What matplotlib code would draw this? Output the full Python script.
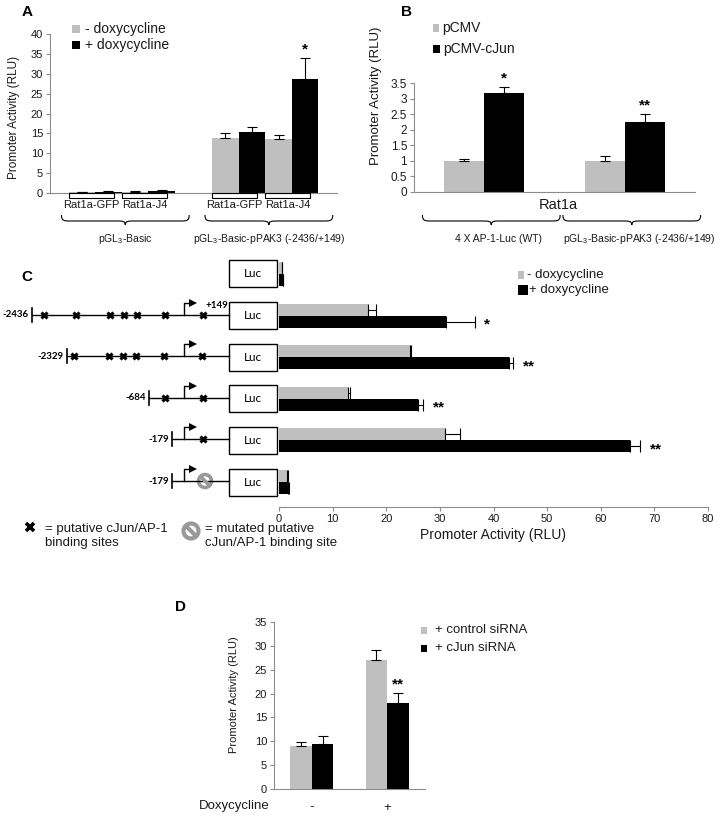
import matplotlib
matplotlib.use('Agg')
import matplotlib.pyplot as plt
import numpy as np
from matplotlib.patches import Rectangle, Circle, PathPatch
from matplotlib.path import Path
from matplotlib.ticker import FuncFormatter

plt.rcParams['font.family'] = ['Liberation Sans', 'DejaVu Sans']
plt.rcParams['mathtext.fontset'] = 'custom'
plt.rcParams['mathtext.rm'] = 'Liberation Sans'
plt.rcParams['mathtext.it'] = 'Liberation Sans:italic'
plt.rcParams['mathtext.bf'] = 'Liberation Sans:bold'

GRAY = '#BFBFBF'
BLACK = '#000000'
SPINE = '#8C8C8C'
TXT = '#1a1a1a'

# ---------------- data ----------------
# Panel A
a_groups = ['pGL$_{\\mathrm{3}}$-Basic', 'pGL$_{\\mathrm{3}}$-Basic-pPAK3 (-2436/+149)']
a_cells = ['Rat1a-GFP', 'Rat1a-J4']
a_series = ['- doxycycline', '+ doxycycline']
a_gfp_minus = [0.25, 13.9]
a_gfp_plus = [0.3, 15.4]
a_j4_minus = [0.35, 13.5]
a_j4_plus = [0.55, 28.8]
a_gfp_minus_err = [0.1, 1.1]
a_gfp_plus_err = [0.1, 1.2]
a_j4_minus_err = [0.1, 1.1]
a_j4_plus_err = [0.15, 5.2]
a_stars = ['', '', '', '*']  # for group 2 bars

# Panel B
b_groups = ['4 X AP-1-Luc (WT)', 'pGL$_{\\mathrm{3}}$-Basic-pPAK3 (-2436/+149)']
b_series = ['pCMV', 'pCMV-cJun']
b_pcmv = [1.0, 1.0]
b_pcmv_err = [0.07, 0.15]
b_cjun = [3.19, 2.26]
b_cjun_err = [0.19, 0.25]
b_stars = ['*', '**']

# Panel C
c_labels = ['', '-2436', '-2329', '-684', '-179', '-179']
c_minus = [0.5, 16.6, 24.4, 12.8, 30.9, 1.5]
c_minus_err = [0.1, 1.4, 0.2, 0.4, 2.8, 0.1]
c_plus = [0.7, 31.1, 42.8, 26.0, 65.4, 1.7]
c_plus_err = [0.1, 5.4, 0.9, 0.9, 2.0, 0.1]
c_stars = ['', '*', '**', '**', '**', '']
# schematic construct drawing (schematic pixel positions, not to scale)
c_start = [None, 32, 67, 149, 172, 172]
c_sites = [[], [44, 76, 110, 124, 137, 165, 203], [74, 109, 123, 136, 164, 202],
           [165, 203], [203], []]
c_mutated = [None, None, None, None, None, 205]
c_tss = 184

# Panel D
d_cats = ['-', '+']
d_series = ['+ control siRNA', '+ cJun siRNA']
d_ctrl = [9.0, 27.1]
d_ctrl_err = [0.9, 2.0]
d_cjun = [9.5, 18.0]
d_cjun_err = [1.6, 2.2]
d_stars = ['', '**']

# ---------------- figure ----------------
W, H = 720, 816
fig = plt.figure(figsize=(7.2, 8.16), dpi=100)


def px_axes(l, t, r, b):
    return fig.add_axes([l / W, 1 - b / H, (r - l) / W, (b - t) / H])


ov = fig.add_axes([0, 0, 1, 1], zorder=5)
ov.set_xlim(0, W)
ov.set_ylim(H, 0)
ov.axis('off')
ov.patch.set_alpha(0)


def to_px(ax, x, y):
    d = ax.transData.transform((x, y))
    return ov.transData.inverted().transform(d)


def style(ax, fs):
    for s in ['top', 'right']:
        ax.spines[s].set_visible(False)
    for s in ['left', 'bottom']:
        ax.spines[s].set_color(SPINE)
        ax.spines[s].set_linewidth(0.8)
    ax.tick_params(axis='both', direction='out', length=3, width=0.8, color=SPINE,
                   labelsize=fs, labelcolor=TXT, pad=2)


def brace(x0, x1, y, up=6, down=4, lw=0.8):
    xm = (x0 + x1) / 2
    r = min(9, (x1 - x0) / 6)
    yt = y - up
    yb = y + down
    verts = [(x0, yt),
             (x0, y), (x0 + r * 0.3, y), (x0 + r, y),
             (xm - r, y),
             (xm - r * 0.3, y), (xm, y), (xm, yb),
             (xm, y), (xm + r * 0.3, y), (xm + r, y),
             (x1 - r, y),
             (x1 - r * 0.3, y), (x1, y), (x1, yt)]
    codes = [Path.MOVETO,
             Path.CURVE4, Path.CURVE4, Path.CURVE4,
             Path.LINETO,
             Path.CURVE4, Path.CURVE4, Path.CURVE4,
             Path.CURVE4, Path.CURVE4, Path.CURVE4,
             Path.LINETO,
             Path.CURVE4, Path.CURVE4, Path.CURVE4]
    ov.add_patch(PathPatch(Path(verts, codes), fill=False, lw=lw, color='black'))


def legend_item(x, y, color, text, size=8, gap=4, fs=9, sqw=None):
    sqw = sqw or size
    ov.add_patch(Rectangle((x, y - size / 2), sqw, size, color=color, lw=0))
    ov.text(x + sqw + gap, y, text, fontsize=fs, va='center', ha='left', color=TXT)


ekw = dict(ecolor='black', elinewidth=0.8, capsize=3.5, capthick=0.8)

# ---------------- Panel A ----------------
axA = px_axes(50, 34, 337, 193)
style(axA, 8)
xA = np.arange(len(a_groups))
wA = 0.185
a_vals = [a_gfp_minus, a_gfp_plus, a_j4_minus, a_j4_plus]
a_errs = [a_gfp_minus_err, a_gfp_plus_err, a_j4_minus_err, a_j4_plus_err]
a_cols = [GRAY, BLACK, GRAY, BLACK]
a_offs = [-1.5 * wA, -0.5 * wA, 0.5 * wA, 1.5 * wA]
for v, e, c, o in zip(a_vals, a_errs, a_cols, a_offs):
    axA.bar(xA + o, v, wA, color=c, yerr=[np.zeros(len(e)), e], error_kw=ekw, zorder=2)
for k, s in enumerate(a_stars):
    if s:
        axA.text(xA[1] + a_offs[k], a_vals[k][1] + a_errs[k][1] + 0.3, s,
                 ha='center', va='bottom', fontsize=11, fontweight='bold')
axA.set_xlim(-0.5, 1.5)
axA.set_ylim(0, 40)
axA.set_yticks(np.arange(0, 41, 5))
axA.set_xticks([])
axA.set_ylabel('Promoter Activity (RLU)', fontsize=8.5, va='center', color=TXT)
axA.yaxis.set_label_coords(14, 117, transform=ov.transData)
for g, c in enumerate(xA):
    for p, (lo, hi) in enumerate([(-2 * wA, -0.3 * wA), (0.0, 1.7 * wA)]):
        x0 = to_px(axA, c + lo, 0)[0]
        x1 = to_px(axA, c + hi, 0)[0]
        ov.add_patch(Rectangle((x0, 193), x1 - x0, 4.5, fill=False, lw=0.8, ec='black'))
        ov.text((x0 + x1) / 2, 205, a_cells[p], fontsize=8, ha='center', va='center', color=TXT)
    bx0 = to_px(axA, c - 0.42, 0)[0]
    bx1 = to_px(axA, c + 0.47, 0)[0]
    brace(bx0, bx1, 221)
    ov.text((bx0 + bx1) / 2, 239, a_groups[g], fontsize=7.5, ha='center', va='center', color=TXT)
legend_item(72, 29, GRAY, a_series[0], size=8, gap=5, fs=10)
legend_item(72, 45, BLACK, a_series[1], size=8, gap=5, fs=10)
ov.text(27, 12, 'A', fontsize=11, fontweight='bold', ha='center', va='center')

# ---------------- Panel B ----------------
axB = px_axes(414, 83, 695, 192)
style(axB, 8.5)
xB = np.arange(len(b_groups))
wB = 0.285
axB.bar(xB - wB / 2, b_pcmv, wB, color=GRAY, yerr=[np.zeros(2), b_pcmv_err], error_kw=ekw, zorder=2)
axB.bar(xB + wB / 2, b_cjun, wB, color=BLACK, yerr=[np.zeros(2), b_cjun_err], error_kw=ekw, zorder=2)
for i, s in enumerate(b_stars):
    axB.text(xB[i] + wB / 2, b_cjun[i] + b_cjun_err[i] + 0.03, s, ha='center', va='bottom',
             fontsize=11, fontweight='bold')
axB.set_xlim(-0.5, 1.5)
axB.set_ylim(0, 3.5)
axB.set_yticks(np.arange(0, 3.51, 0.5))
axB.yaxis.set_major_formatter(FuncFormatter(lambda v, p: '%g' % v))
axB.set_xticks([])
axB.set_ylabel('Promoter Activity (RLU)', fontsize=9.5, va='center', color=TXT)
axB.yaxis.set_label_coords(376, 96, transform=ov.transData)
ov.text(558, 205, 'Rat1a', fontsize=10.5, ha='center', va='center', color=TXT)
for g, c in enumerate(xB):
    bx0 = to_px(axB, c - 0.44, 0)[0]
    bx1 = to_px(axB, c + 0.54, 0)[0]
    brace(bx0, bx1, 221)
    lx = to_px(axB, c + 0.1, 0)[0]
    ov.text(lx, 239, b_groups[g], fontsize=7.5, ha='center', va='center', color=TXT)
legend_item(433, 28, GRAY, b_series[0], size=8, sqw=6, gap=3, fs=10)
legend_item(433, 49, BLACK, b_series[1], size=8, sqw=7, gap=3, fs=10)
ov.text(406, 12, 'B', fontsize=11, fontweight='bold', ha='center', va='center')

# ---------------- Panel C ----------------
axC = px_axes(279, 249, 708, 507)
style(axC, 8)
axC.spines['left'].set_visible(False)
axC.tick_params(axis='y', left=False, labelleft=False)
yC = np.arange(len(c_labels))
hC = 0.29
ekwh = dict(ecolor='black', elinewidth=0.8, capsize=4.5, capthick=0.8)
axC.barh(yC - hC / 2, c_minus, hC, color=GRAY, xerr=[np.zeros(len(yC)), c_minus_err], error_kw=ekwh, zorder=2)
axC.barh(yC + hC / 2, c_plus, hC, color=BLACK, xerr=[np.zeros(len(yC)), c_plus_err], error_kw=ekwh, zorder=2)
for i, s in enumerate(c_stars):
    if s:
        axC.text(c_plus[i] + c_plus_err[i] + 1.8, yC[i] + hC / 2 + 0.07, s, ha='left', va='center',
                 fontsize=11, fontweight='bold')
axC.set_xlim(0, 80)
axC.set_ylim(5.6, -0.6)
axC.set_xticks(np.arange(0, 81, 10))
axC.set_xlabel('Promoter Activity (RLU)', fontsize=10, color=TXT, labelpad=3)

for i in range(len(c_labels)):
    yc = to_px(axC, 0, yC[i])[1]
    # Luc box
    ov.add_patch(Rectangle((229, yc - 13.5), 48, 27, fill=True, fc='white', ec='black', lw=1.0))
    ov.text(253, yc, 'Luc', fontsize=8.5, family=['Lato', 'Liberation Sans'], ha='center', va='center')
    if c_start[i] is None:
        continue
    yl = yc - 1
    x0 = c_start[i]
    ov.plot([x0, 229], [yl, yl], color='black', lw=1.0)
    ov.plot([x0, x0], [yl - 7, yl + 7], color='black', lw=1.2)
    ov.text(x0 - 3, yl, c_labels[i], fontsize=7, fontweight='bold',
            family=['Lato', 'Liberation Sans'], ha='right', va='center')
    # TSS arrow
    ov.plot([c_tss, c_tss, c_tss + 8], [yl, yl - 12, yl - 12], color='black', lw=1.0)
    ov.plot([c_tss + 9], [yl - 12], marker='>', ms=6, color='black', mew=0)
    for sx in c_sites[i]:
        ov.plot([sx], [yl], marker='x', ms=4.5, mew=2.2, color='black')
    if c_mutated[i] is not None:
        mx = c_mutated[i]
        ov.add_patch(Circle((mx, yl), 6.5, fill=False, ec='#999999', lw=2.6))
        d = 6.5 * 0.707
        ov.plot([mx - d, mx + d], [yl - d, yl + d], color='#999999', lw=2.6, solid_capstyle='butt')
    if i == 1:
        ov.text(205, yl - 9, '+149', fontsize=7, fontweight='bold',
                family=['Lato', 'Liberation Sans'], ha='left', va='center')

legend_item(518, 275, GRAY, '- doxycycline', size=8, sqw=6, gap=3, fs=9.5)
legend_item(518, 290, BLACK, '+ doxycycline', size=10, sqw=10, gap=1, fs=9.5)
ov.text(27, 277, 'C', fontsize=11, fontweight='bold', ha='center', va='center')

# bottom key of panel C
ov.plot([30], [527], marker='x', ms=6, mew=2.6, color='black')
ov.text(45, 536, '= putative cJun/AP-1\nbinding sites', fontsize=9.5, ha='left', va='center',
        linespacing=1.15, color=TXT)
ov.add_patch(Circle((191, 531), 7.5, fill=False, ec='#999999', lw=3))
dd = 7.5 * 0.707
ov.plot([191 - dd, 191 + dd], [531 - dd, 531 + dd], color='#999999', lw=3, solid_capstyle='butt')
ov.text(205, 536, '= mutated putative\ncJun/AP-1 binding site', fontsize=9.5, ha='left', va='center',
        linespacing=1.15, color=TXT)

# ---------------- Panel D ----------------
axD = px_axes(274, 622, 425, 789)
style(axD, 8)
xD = np.arange(len(d_cats))
wD = 0.285
axD.bar(xD - wD / 2, d_ctrl, wD, color=GRAY, yerr=[np.zeros(2), d_ctrl_err], error_kw=ekw, zorder=2)
axD.bar(xD + wD / 2, d_cjun, wD, color=BLACK, yerr=[np.zeros(2), d_cjun_err], error_kw=ekw, zorder=2)
for i, s in enumerate(d_stars):
    if s:
        axD.text(xD[i] + wD / 2, d_cjun[i] + d_cjun_err[i] + 0.3, s, ha='center', va='bottom',
                 fontsize=11, fontweight='bold')
axD.set_xlim(-0.5, 1.5)
axD.set_ylim(0, 35)
axD.set_yticks(np.arange(0, 36, 5))
axD.set_xticks(xD)
axD.set_xticklabels(d_cats, fontsize=9.5)
axD.tick_params(axis='x', length=0, pad=9)
axD.set_ylabel('Promoter Activity (RLU)', fontsize=8, va='center', color=TXT)
axD.yaxis.set_label_coords(234, 695, transform=ov.transData)
ov.text(270, 806, 'Doxycycline', fontsize=9.5, ha='right', va='center', color=TXT)
legend_item(421, 630, GRAY, d_series[0], size=7, sqw=6, gap=8, fs=9.5)
legend_item(421, 648, BLACK, d_series[1], size=7, sqw=6, gap=8, fs=9.5)
ov.text(180, 607, 'D', fontsize=11, fontweight='bold', ha='center', va='center')

fig.savefig('out.png', dpi=100)
